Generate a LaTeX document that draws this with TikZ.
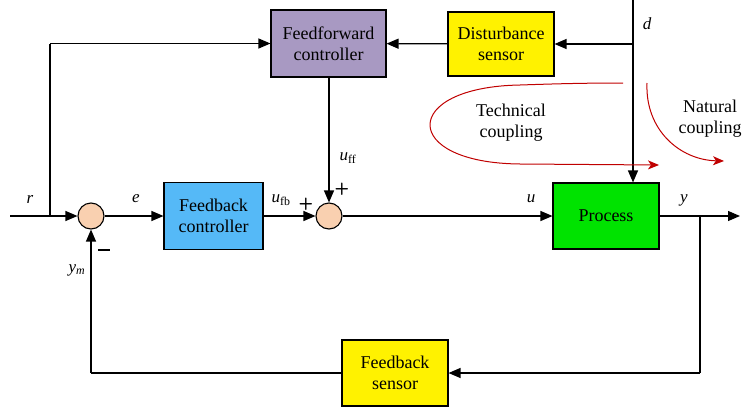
\documentclass[tikz,border=0pt]{standalone}
\usepackage{fontspec}
\setmainfont{Liberation Serif}
\usetikzlibrary{arrows.meta}
\definecolor{ffpurple}{HTML}{A899C2}
\definecolor{fbblue}{HTML}{55B9F7}
\definecolor{procgreen}{HTML}{00E300}
\definecolor{sumpeach}{HTML}{F9D0B0}
\definecolor{cplred}{HTML}{C00000}
\begin{document}
\begin{tikzpicture}[x=1pt,y=-1pt,
  blk/.style={draw=black,line width=1.1pt,align=center,inner sep=0pt,font=\fontsize{18}{21}\selectfont},
  sumnode/.style={circle,draw=black,line width=1.1pt,fill=sumpeach,minimum size=26pt,inner sep=0pt},
  sig/.style={line width=1.2pt,-{Triangle[length=12pt,width=10pt]}},
  wire/.style={line width=1.2pt},
  cpl/.style={line width=1pt,draw=cplred,-{Stealth[length=11pt,width=9pt,inset=3pt]}},
  lbl/.style={font=\fontsize{17}{19}\selectfont\itshape,inner sep=0pt},
  ctext/.style={align=center,font=\fontsize{18}{21}\selectfont,inner sep=0pt},
  sgn/.style={inner sep=0pt,font=\fontsize{17}{19}\selectfont\bfseries\sffamily}]
\useasboundingbox (0,0) rectangle (744,407);
% blocks
\node[blk,fill=ffpurple,minimum width=115pt,minimum height=67pt] (ff) at (328.5,43.5) {Feedforward\\controller};
\node[blk,fill=yellow,minimum width=106pt,minimum height=64pt] (ds) at (501,44) {Disturbance\\sensor};
\node[blk,fill=fbblue,minimum width=99pt,minimum height=67pt] (fbc) at (213.5,216) {Feedback\\controller};
\node[blk,fill=procgreen,minimum width=106pt,minimum height=66pt] (proc) at (606,216) {Process};
\node[blk,fill=yellow,minimum width=106pt,minimum height=66pt] (fbs) at (395,373) {Feedback\\sensor};
\node[sumnode] (s1) at (91,216) {};
\node[sumnode] (s2) at (329,216) {};
% coordinates
\coordinate (rin) at (10,216);
\coordinate (br1) at (50,216);
\coordinate (br1t) at (50,43.5);
\coordinate (dtop) at (633,0);
\coordinate (dbr) at (633,44);
\coordinate (ybr) at (700,216);
\coordinate (yout) at (740,216);
\coordinate (ybot) at (700,373);
\coordinate (fbl) at (91,373);
% connectors
\draw[sig] (rin) -- (s1);
\draw[wire] (br1) -- (br1t);
\draw[sig] (br1t) -- (ff.west |- br1t);
\draw[sig] (s1) -- (fbc);
\draw[sig] (fbc) -- (s2);
\draw[sig] (ff.south -| s2) -- (s2);
\draw[sig] (s2) -- (proc);
\draw[sig] (proc) -- (yout);
\draw[sig] (dbr) -- (ds);
\draw[sig] (ds) -- (ff);
\draw[sig] (dtop) -- (dtop |- proc.north);
\draw[wire] (ybr) -- (ybot);
\draw[sig] (ybot) -- (fbs.east |- ybot);
\draw[wire] (fbs.west |- fbl) -- (fbl);
\draw[sig] (fbl) -- (s1);
% coupling curves
\coordinate (tc0) at (623,83);
\coordinate (tc1) at (520,85);
\coordinate (tc2) at (520,164);
\coordinate (tcend) at (659,165);
\draw[cpl] (tc0) .. controls (580,83) and (550,84) .. (tc1) .. controls (400,87) and (400,163) .. (tc2) -- (tcend);
\coordinate (nc0) at (647,83);
\coordinate (ncend) at (724,161);
\draw[cpl] (nc0) .. controls (645,130) and (680,160) .. (ncend);
\node[ctext] (tct) at (511,123) {Technical\\coupling};
\node[ctext] (nct) at (710,119) {Natural\\coupling};
% labels
\node[lbl] (lr) at (30,199) {r};
\node[lbl] (le) at (136,199) {e};
\node[lbl] (lufb) at (281,200) {u\textsubscript{\upshape fb}};
\node[lbl] (luff) at (348,158) {u\textsubscript{\upshape ff}};
\node[lbl] (lu) at (531,199) {u};
\node[lbl] (ly) at (684,200) {y};
\node[lbl] (ld) at (647,24) {d};
\node[lbl] (lym) at (77,270) {y\textsubscript{m}};
\node[sgn] (p1) at (306,204) {+};
\node[sgn] (p2) at (342,189) {+};
\draw[line width=1.6pt] (98,250) -- (110,250);
\end{tikzpicture}
\end{document}
